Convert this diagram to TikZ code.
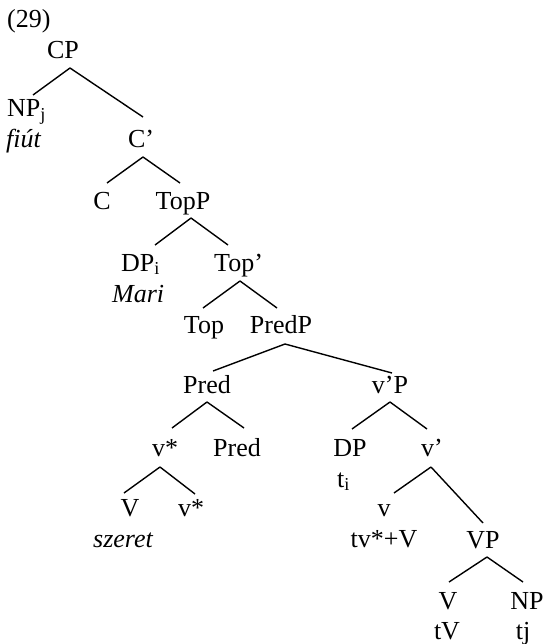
\documentclass[tikz,border=0pt]{standalone}
\usepackage{fontspec}
\setmainfont{Liberation Serif}
\begin{document}
\begin{tikzpicture}[x=1pt,y=-1pt,
  lbl/.style={anchor=base,inner sep=0pt,font=\fontsize{26}{31}\selectfont},
  lblw/.style={lbl,anchor=base west},
  branch/.style={line width=1.4pt}]
\useasboundingbox (0,0) rectangle (547,644);

% example number
\node[lblw] (num) at (7,28) {(29)};

% labels
\node[lbl]  (cp)     at (63,59)   {CP};
\node[lblw] (npj)    at (7,117)   {NP\textsubscript{j}};
\node[lblw] (fiut)   at (6,148)   {\itshape fiút};
\node[lbl]  (cbar)   at (141,148) {C’};
\node[lbl]  (c)      at (102,210) {C};
\node[lbl]  (topp)   at (183,210) {TopP};
\node[lblw] (dpi)    at (121,271) {DP\textsubscript{i}};
\node[lblw] (mari)   at (112,302) {\itshape Mari};
\node[lblw] (topbar) at (214,271) {Top’};
\node[lbl]  (top)    at (204,333) {Top};
\node[lbl]  (predp)  at (281,333) {PredP};
\node[lbl]  (pred)   at (207,393) {Pred};
\node[lbl]  (vbarp)  at (390,393) {v’P};
\node[lbl]  (vstar)  at (165,456) {v*};
\node[lbl]  (predb)  at (237,456) {Pred};
\node[lbl]  (dp)     at (350,456) {DP};
\node[lblw] (ti)     at (337,487) {t\textsubscript{i}};
\node[lblw] (vbar)   at (421,456) {v’};
\node[lbl]  (vv)     at (130,516) {V};
\node[lbl]  (vstarb) at (191,516) {v*};
\node[lbl]  (szeret) at (123,547) {\itshape szeret};
\node[lbl]  (vsmall) at (384,516) {v};
\node[lbl]  (tvv)    at (384,547) {tv*+V};
\node[lbl]  (vp)     at (483,548) {VP};
\node[lbl]  (vvb)    at (448,609) {V};
\node[lbl]  (np)     at (527,609) {NP};
\node[lbl]  (tv)     at (447,639) {tV};
\node[lbl]  (tj)     at (523,639) {tj};

% branches
\draw[branch] ([shift={(7,9)}]cp.base) -- ([shift={(26,-22)}]npj.base west);
\draw[branch] ([shift={(7,9)}]cp.base) -- ([shift={(2,-31)}]cbar.base);
\draw[branch] ([shift={(2,9)}]cbar.base) -- ([shift={(5,-27)}]c.base);
\draw[branch] ([shift={(2,9)}]cbar.base) -- ([shift={(-3,-27)}]topp.base);
\draw[branch] ([shift={(8,8)}]topp.base) -- ([shift={(34,-26)}]dpi.base west);
\draw[branch] ([shift={(8,8)}]topp.base) -- ([shift={(14,-26)}]topbar.base west);
\draw[branch] ([shift={(26,10)}]topbar.base west) -- ([shift={(-1,-25)}]top.base);
\draw[branch] ([shift={(26,10)}]topbar.base west) -- ([shift={(-4,-25)}]predp.base);
\draw[branch] ([shift={(4,11)}]predp.base) -- ([shift={(6,-22)}]pred.base);
\draw[branch] ([shift={(4,11)}]predp.base) -- ([shift={(2,-20)}]vbarp.base);
\draw[branch] ([shift={(0,9)}]pred.base) -- ([shift={(7,-28)}]vstar.base);
\draw[branch] ([shift={(0,9)}]pred.base) -- ([shift={(7,-28)}]predb.base);
\draw[branch] ([shift={(0,9)}]vbarp.base) -- ([shift={(2,-27)}]dp.base);
\draw[branch] ([shift={(0,9)}]vbarp.base) -- ([shift={(6,-27)}]vbar.base west);
\draw[branch] ([shift={(-5,11)}]vstar.base) -- ([shift={(-6,-23)}]vv.base);
\draw[branch] ([shift={(-5,11)}]vstar.base) -- ([shift={(4,-22)}]vstarb.base);
\draw[branch] ([shift={(10,11)}]vbar.base west) -- ([shift={(10,-23)}]vsmall.base);
\draw[branch] ([shift={(10,11)}]vbar.base west) -- ([shift={(0,-25)}]vp.base);
\draw[branch] ([shift={(4,9)}]vp.base) -- ([shift={(1,-27)}]vvb.base);
\draw[branch] ([shift={(4,9)}]vp.base) -- ([shift={(-4,-27)}]np.base);
\end{tikzpicture}
\end{document}
